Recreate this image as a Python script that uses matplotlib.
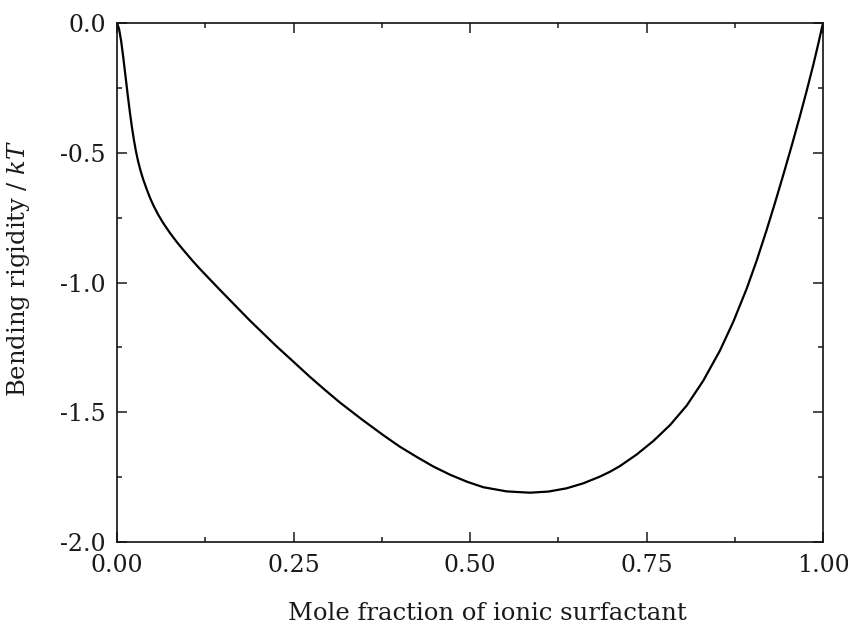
import matplotlib
matplotlib.use("Agg")
import matplotlib.pyplot as plt
from matplotlib.ticker import MultipleLocator, FormatStrFormatter

mole_fraction = [0.000, 0.003, 0.006, 0.009, 0.012, 0.015, 0.018, 0.021, 0.024, 0.027,
                 0.030, 0.0335, 0.0373, 0.042, 0.0465, 0.0515, 0.058, 0.0656, 0.075,
                 0.0844, 0.095, 0.1058, 0.116, 0.127, 0.146, 0.167, 0.188, 0.207,
                 0.226, 0.250, 0.273, 0.295, 0.316, 0.347, 0.377, 0.400, 0.424,
                 0.448, 0.472, 0.496, 0.519, 0.552, 0.585, 0.611, 0.637, 0.6605,
                 0.684, 0.698, 0.712, 0.736, 0.760, 0.7835, 0.807, 0.8305, 0.854,
                 0.873, 0.892, 0.906, 0.920, 0.932, 0.944, 0.9555, 0.967, 0.9765,
                 0.986, 0.993, 1.000]
bending_rigidity = [0.000, -0.024, -0.072, -0.135, -0.204, -0.273, -0.339, -0.399, -0.4515, -0.4965,
                    -0.534, -0.5708, -0.6042, -0.640, -0.672, -0.7025, -0.737, -0.7715, -0.809,
                    -0.843, -0.878, -0.9125, -0.9435, -0.975, -1.029, -1.0875, -1.146, -1.196,
                    -1.246, -1.3055, -1.363, -1.415, -1.463, -1.528, -1.588, -1.6316, -1.6714,
                    -1.709, -1.741, -1.768, -1.789, -1.805, -1.810, -1.8057, -1.793, -1.7738,
                    -1.748, -1.7296, -1.708, -1.663, -1.610, -1.549, -1.474, -1.378, -1.2625,
                    -1.151, -1.023, -0.916, -0.799, -0.693, -0.583, -0.4745, -0.362, -0.2654,
                    -0.164, -0.084, 0.000]

x_ticks = [0.0, 0.25, 0.5, 0.75, 1.0]
y_ticks = [0.0, -0.5, -1.0, -1.5, -2.0]

plt.rcParams['font.family'] = ['DejaVu Serif']
plt.rcParams['mathtext.fontset'] = 'dejavuserif'

fig = plt.figure(figsize=(8.48, 6.27), dpi=100)
ax = fig.add_axes([117/848, 85/627, 706/848, 519/627])

ax.plot(mole_fraction, bending_rigidity, color='black', lw=1.6,
        solid_capstyle='round', solid_joinstyle='round')

ax.set_xlim(0, 1)
ax.set_ylim(-2.0, 0.0)
ax.set_xticks(x_ticks)
ax.set_yticks(y_ticks)
ax.xaxis.set_minor_locator(MultipleLocator(0.125))
ax.yaxis.set_minor_locator(MultipleLocator(0.25))
ax.xaxis.set_major_formatter(FormatStrFormatter('%.2f'))
ax.yaxis.set_major_formatter(FormatStrFormatter('%.1f'))

ax.tick_params(which='both', direction='in', top=True, right=True, width=1.1,
               labelsize=17, colors='#1a1a1a')
ax.tick_params(which='major', length=7)
ax.tick_params(which='minor', length=3.5)
ax.tick_params(axis='x', which='major', pad=9)
ax.tick_params(axis='y', which='major', pad=8)
for s in ax.spines.values():
    s.set_linewidth(1.2)
    s.set_color('#111111')

ax.set_xlabel('Mole fraction of ionic surfactant', fontsize=17.5, color='#1a1a1a',
              va='baseline')
ax.set_ylabel('Bending rigidity / $kT$', fontsize=17.5, color='#1a1a1a')
ax.xaxis.set_label_coords(0.524, -0.150)
ax.yaxis.set_label_coords(-0.121, 0.528)

fig.savefig('out.png', dpi=100)
